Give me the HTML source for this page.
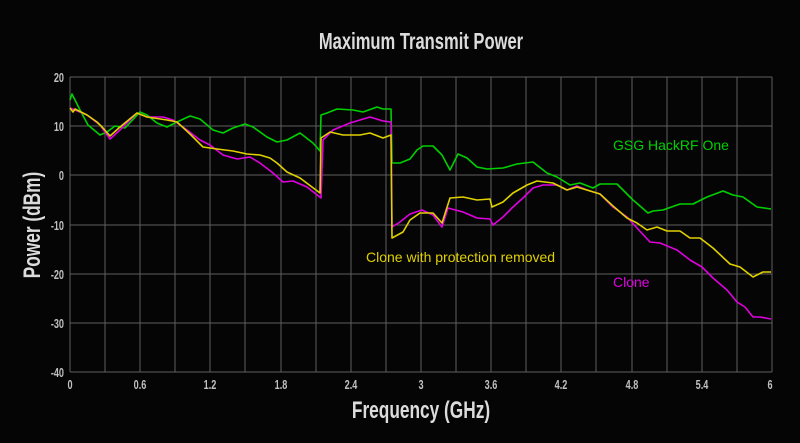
<!DOCTYPE html>
<html><head><style>
body{margin:0;background:#050505;}
svg{display:block}
.t{font-family:"Liberation Sans",sans-serif;}
</style></head><body>
<svg width="800" height="443" viewBox="0 0 800 443" xmlns="http://www.w3.org/2000/svg">
<rect width="800" height="443" fill="#050505"/>
<g stroke="#606060" stroke-width="1">
<line x1="70" y1="77" x2="772" y2="77"/><line x1="70" y1="126" x2="772" y2="126"/><line x1="70" y1="175" x2="772" y2="175"/><line x1="70" y1="225" x2="772" y2="225"/><line x1="70" y1="274" x2="772" y2="274"/><line x1="70" y1="323" x2="772" y2="323"/><line x1="70" y1="372" x2="772" y2="372"/>
<line x1="70" y1="77" x2="70" y2="372"/><line x1="105" y1="77" x2="105" y2="372"/><line x1="140" y1="77" x2="140" y2="372"/><line x1="175" y1="77" x2="175" y2="372"/><line x1="210" y1="77" x2="210" y2="372"/><line x1="245" y1="77" x2="245" y2="372"/><line x1="281" y1="77" x2="281" y2="372"/><line x1="316" y1="77" x2="316" y2="372"/><line x1="351" y1="77" x2="351" y2="372"/><line x1="386" y1="77" x2="386" y2="372"/><line x1="421" y1="77" x2="421" y2="372"/><line x1="456" y1="77" x2="456" y2="372"/><line x1="491" y1="77" x2="491" y2="372"/><line x1="526" y1="77" x2="526" y2="372"/><line x1="561" y1="77" x2="561" y2="372"/><line x1="596" y1="77" x2="596" y2="372"/><line x1="632" y1="77" x2="632" y2="372"/><line x1="667" y1="77" x2="667" y2="372"/><line x1="702" y1="77" x2="702" y2="372"/><line x1="737" y1="77" x2="737" y2="372"/><line x1="772" y1="77" x2="772" y2="372"/>
</g>
<g fill="none" stroke-width="1.6" stroke-linejoin="round">
<polyline stroke="#00d000" points="70,100 72,94 80,110 88,125 100,135 107,132 115,126 125,128 140,112 147,115 157,123 167,127 177,122 190,116 200,119 213,130 223,133 233,128 245,124 253,127 267,137 277,142 287,140 300,133 313,143 320,151 321,115 327,113 337,109 353,110 363,112 377,107 383,109 391,109 392,163 400,163 410,159 417,150 423,146 433,146 442,155 450,170 458,154 467,158 477,167 487,169 503,168 517,164 533,162 547,173 557,177 570,185 580,183 593,188 600,184 617,184 633,200 648,213 653,211 663,210 680,204 693,204 707,197 723,191 733,195 743,197 757,207 771,209"/>
<polyline stroke="#e000e0" points="70,108 75,110 87,115 100,125 110,139 120,130 137,113 147,117 163,117 173,120 187,130 200,140 210,145 223,155 237,159 250,157 260,163 273,173 283,182 293,181 307,187 321,198 323,140 333,130 350,123 370,117 383,121 391,122 392,227 400,222 410,214 422,210 433,215 442,227 448,208 463,212 477,218 490,219 493,225 503,217 513,207 523,198 533,188 543,185 557,185 567,190 577,186 587,190 600,194 613,207 627,217 637,228 650,242 660,243 677,250 690,260 702,267 713,278 727,290 737,302 745,307 753,317 760,317 771,319"/>
<polyline stroke="#e0d000" points="70,108 73,112 75,109 87,115 97,122 103,128 110,136 120,127 137,113 147,117 167,120 177,122 190,134 203,147 217,149 233,151 247,154 260,155 270,158 277,163 287,172 300,178 320,193 321,138 330,132 343,135 360,135 370,133 383,138 391,135 392,238 403,232 410,220 420,213 433,213 442,223 450,198 463,197 477,200 490,199 492,207 503,202 513,193 527,185 537,181 553,183 567,190 577,187 600,194 613,206 627,218 637,223 647,230 657,227 667,231 680,231 690,238 700,238 713,248 730,264 740,267 753,277 763,272 771,272"/>
</g>
<g class="t" fill="#c0c0c0" font-size="13" font-weight="bold" text-anchor="end">
<text transform="translate(64,82) scale(0.7,1)">20</text><text transform="translate(64,131) scale(0.7,1)">10</text><text transform="translate(64,180) scale(0.7,1)">0</text><text transform="translate(64,230) scale(0.7,1)">-10</text><text transform="translate(64,279) scale(0.7,1)">-20</text><text transform="translate(64,328) scale(0.7,1)">-30</text><text transform="translate(64,377) scale(0.7,1)">-40</text>
</g>
<g class="t" fill="#c0c0c0" font-size="13" font-weight="bold" text-anchor="middle">
<text transform="translate(70,389) scale(0.7,1)">0</text><text transform="translate(140,389) scale(0.7,1)">0.6</text><text transform="translate(210,389) scale(0.7,1)">1.2</text><text transform="translate(281,389) scale(0.7,1)">1.8</text><text transform="translate(351,389) scale(0.7,1)">2.4</text><text transform="translate(421,389) scale(0.7,1)">3</text><text transform="translate(491,389) scale(0.7,1)">3.6</text><text transform="translate(561,389) scale(0.7,1)">4.2</text><text transform="translate(632,389) scale(0.7,1)">4.8</text><text transform="translate(702,389) scale(0.7,1)">5.4</text><text transform="translate(770,389) scale(0.7,1)">6</text>
</g>
<text class="t" fill="#dcdcdc" font-size="23" font-weight="bold" text-anchor="middle" transform="translate(421,49) scale(0.72,1)">Maximum Transmit Power</text>
<text class="t" fill="#dcdcdc" font-size="24" font-weight="bold" text-anchor="middle" transform="translate(421,418) scale(0.72,1)">Frequency (GHz)</text>
<text class="t" fill="#dcdcdc" font-size="24" font-weight="bold" text-anchor="middle" transform="translate(40,225) rotate(-90) scale(0.72,1)">Power (dBm)</text>
<text class="t" x="613" y="150" fill="#00d000" font-size="14">GSG HackRF One</text>
<text class="t" x="366" y="262" fill="#e0d000" font-size="14">Clone with protection removed</text>
<text class="t" x="613" y="287" fill="#e000e0" font-size="14">Clone</text>
</svg>
</body></html>
